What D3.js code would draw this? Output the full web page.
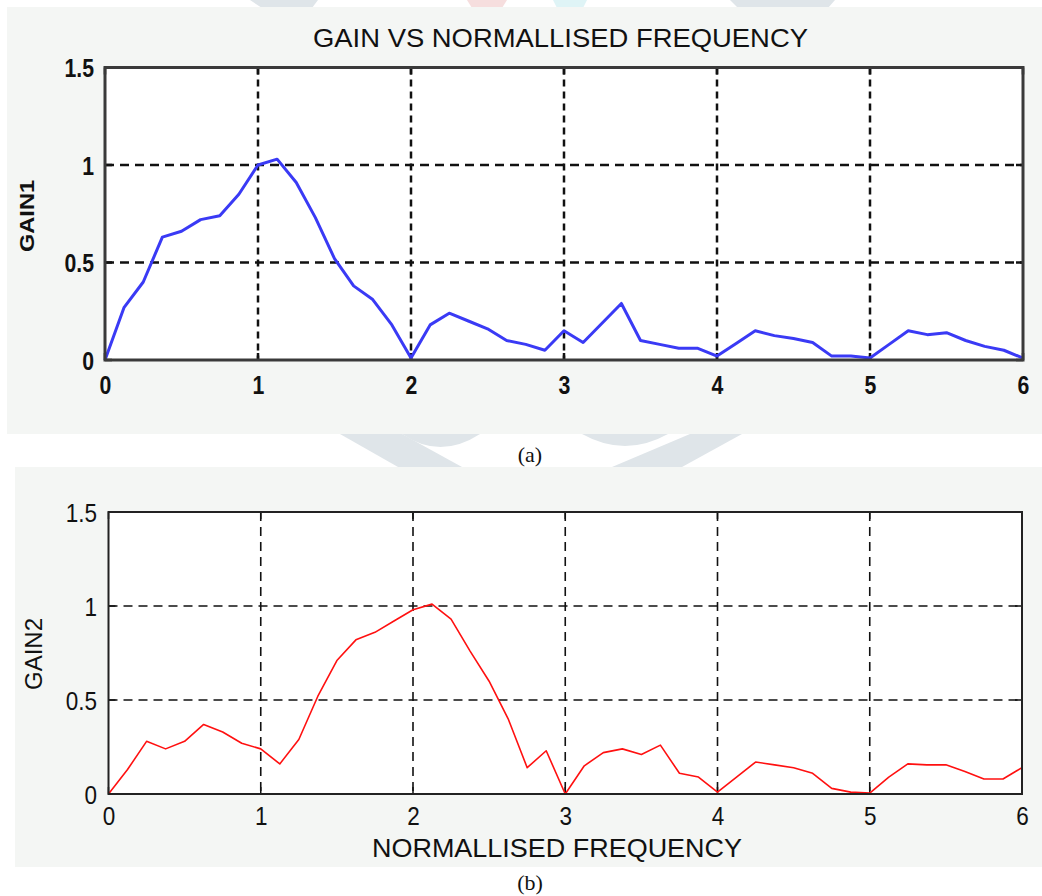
<!DOCTYPE html>
<html><head><meta charset="utf-8">
<script src="https://cdn.jsdelivr.net/npm/d3@7"></script>
<style>body{margin:0;background:#fff;} svg{display:block}</style>
</head><body>
<svg id="c" width="1042" height="896"></svg>
<script>
// ---- data ----
const freq = [0,0.125,0.25,0.375,0.5,0.625,0.75,0.875,1,1.125,1.25,1.375,1.5,1.625,1.75,1.875,
  2,2.125,2.25,2.375,2.5,2.625,2.75,2.875,3,3.125,3.25,3.375,3.5,3.625,3.75,3.875,
  4,4.125,4.25,4.375,4.5,4.625,4.75,4.875,5,5.125,5.25,5.375,5.5,5.625,5.75,5.875,6];
const gain1 = [0,0.27,0.40,0.63,0.66,0.72,0.74,0.85,1.00,1.03,0.91,0.73,0.52,0.38,0.31,0.18,
  0.01,0.18,0.24,0.20,0.16,0.10,0.08,0.05,0.15,0.09,0.19,0.29,0.10,0.08,0.06,0.06,
  0.02,0.085,0.15,0.125,0.11,0.09,0.02,0.02,0.01,0.08,0.15,0.13,0.14,0.10,0.07,0.05,0.01];
const gain2 = [0,0.13,0.28,0.24,0.28,0.37,0.33,0.27,0.24,0.16,0.29,0.52,0.71,0.82,0.86,0.92,
  0.98,1.01,0.93,0.76,0.60,0.40,0.14,0.23,0.0,0.15,0.22,0.24,0.21,0.26,0.11,0.09,
  0.01,0.09,0.17,0.155,0.14,0.11,0.03,0.01,0.005,0.09,0.16,0.155,0.155,0.12,0.08,0.08,0.14];
const xTicks = [0,1,2,3,4,5,6];
const xTickLabels = ["0","1","2","3","4","5","6"];
const yTicks = [0,0.5,1,1.5];
const yTickLabels = ["0","0.5","1","1.5"];
const titleText = "GAIN VS NORMALLISED FREQUENCY";
const yLabel1 = "GAIN1";
const yLabel2 = "GAIN2";
const xLabel2 = "NORMALLISED FREQUENCY";
const captions = ["(a)", "(b)"];

const svg = d3.select("#c");
const FONT = "'Liberation Sans', Arial, sans-serif";

// faint watermark shapes behind the figure
const wm = svg.append("g").attr("fill", "#dfe5e9");
[[[340,434],[402,434],[462,467],[398,467]],
 [[690,434],[742,434],[682,467],[612,467]],
 [[250,0],[318,0],[312,8],[262,8]],
 [[730,0],[835,0],[828,8],[738,8]]].forEach(p =>
  wm.append("polygon").attr("points", p.map(q => q.join(",")).join(" ")));
wm.append("polygon").attr("points","467,0 507,0 502,8 472,8").attr("fill","#f6dede");
wm.append("polygon").attr("points","553,0 587,0 583,8 557,8").attr("fill","#dff4f6");
wm.append("path").attr("d","M402,434 Q440,460 480,434 Z");
wm.append("path").attr("d","M582,434 Q625,458 668,434 Z");

function condense(sel, f) {
  sel.each(function () {
    const w = this.getComputedTextLength();
    d3.select(this).attr("textLength", w * f).attr("lengthAdjust", "spacingAndGlyphs");
  });
}

function panel(o) {
  const g = svg.append("g");
  g.append("rect").attr("x", o.bg[0]).attr("y", o.bg[1]).attr("width", o.bg[2]).attr("height", o.bg[3])
    .attr("fill", "#f4f6f4");
  const x = d3.scaleLinear().domain([0, 6]).range([o.x0, o.x1]);
  const y = d3.scaleLinear().domain([0, 1.5]).range([o.y0, o.y1]);
  g.append("rect").attr("x", o.x0).attr("y", o.y1).attr("width", o.x1 - o.x0).attr("height", o.y0 - o.y1)
    .attr("fill", "#fff");

  // grid
  const grid = g.append("g").attr("stroke", "#111").attr("fill", "none");
  grid.selectAll("line.v").data(xTicks.slice(1, -1)).join("line")
    .attr("x1", d => x(d)).attr("x2", d => x(d)).attr("y1", o.y1).attr("y2", o.y0)
    .attr("stroke-width", o.gridVW).attr("stroke-dasharray", o.dashV);
  grid.selectAll("line.h").data(yTicks.slice(1, -1)).join("line")
    .attr("x1", o.x0).attr("x2", o.x1).attr("y1", d => y(d)).attr("y2", d => y(d))
    .attr("stroke-width", o.gridHW).attr("stroke-dasharray", o.dashH);

  // inward ticks
  const tk = g.append("g").attr("stroke", "#111").attr("stroke-width", o.tickW);
  xTicks.forEach(d => {
    tk.append("line").attr("x1", x(d)).attr("x2", x(d)).attr("y1", o.y0).attr("y2", o.y0 - 7);
    tk.append("line").attr("x1", x(d)).attr("x2", x(d)).attr("y1", o.y1).attr("y2", o.y1 + 7);
  });
  yTicks.forEach(d => {
    tk.append("line").attr("x1", o.x0).attr("x2", o.x0 + 7).attr("y1", y(d)).attr("y2", y(d));
    tk.append("line").attr("x1", o.x1).attr("x2", o.x1 - 7).attr("y1", y(d)).attr("y2", y(d));
  });

  // data line
  const line = d3.line().x((d, i) => x(freq[i])).y(d => y(d));
  g.append("path").datum(o.values).attr("d", line).attr("fill", "none")
    .attr("stroke", o.color).attr("stroke-width", o.lineW).attr("stroke-linejoin", "round");

  // frame
  g.append("rect").attr("x", o.x0).attr("y", o.y1).attr("width", o.x1 - o.x0).attr("height", o.y0 - o.y1)
    .attr("fill", "none").attr("stroke", o.frameColor).attr("stroke-width", o.frameW);

  // axes labels via d3 axes
  const ax = g.append("g").attr("transform", `translate(0,${o.y0})`)
    .call(d3.axisBottom(x).tickValues(xTicks).tickFormat((d, i) => xTickLabels[i]).tickSize(0));
  ax.select(".domain").remove();
  ax.selectAll("text").attr("dy", null).attr("y", o.xTickBase)
    .attr("font-family", FONT).attr("font-size", o.tickSize).attr("font-weight", o.tickWeight)
    .attr("fill", "#111").call(condense, o.condense);
  const ay = g.append("g").attr("transform", `translate(${o.yTickRight},0)`)
    .call(d3.axisLeft(y).tickValues(yTicks).tickFormat((d, i) => yTickLabels[i]).tickSize(0).tickPadding(0));
  ay.select(".domain").remove();
  ay.selectAll("text").attr("dy", "0.36em").attr("x", 0)
    .attr("font-family", FONT).attr("font-size", o.tickSize).attr("font-weight", o.tickWeight)
    .attr("fill", "#111").call(condense, o.condense);

  // y label
  g.append("text").attr("transform", `translate(${o.yLab[0]},${o.yLab[1]}) rotate(-90)`)
    .attr("text-anchor", "middle").attr("dy", "0.36em")
    .attr("font-family", FONT).attr("font-size", o.yLabSize).attr("font-weight", o.tickWeight)
    .attr("fill", "#111").attr("textLength", o.yLabLen).attr("lengthAdjust", "spacingAndGlyphs")
    .text(o.yLabel);
  return g;
}

const p1 = panel({
  bg: [7, 7, 1035, 427], x0: 105, x1: 1023, y0: 360, y1: 67.5,
  values: gain1, color: "#3a3af5", lineW: 3,
  frameColor: "#3a3a3a", frameW: 3, tickW: 2.5,
  gridVW: 2.5, gridHW: 2.5, dashV: "7,5", dashH: "9,6",
  xTickBase: 34, yTickRight: 94, tickSize: 25, tickWeight: "bold", condense: 0.85,
  yLab: [26, 216], yLabSize: 21, yLabLen: 72, yLabel: yLabel1
});
p1.append("text").attr("x", 560.5).attr("y", 47).attr("text-anchor", "middle")
  .attr("font-family", FONT).attr("font-size", 25).attr("fill", "#111")
  .attr("textLength", 495).attr("lengthAdjust", "spacingAndGlyphs").text(titleText);

const p2 = panel({
  bg: [15, 467, 1027, 400], x0: 108.5, x1: 1022, y0: 794, y1: 512,
  values: gain2, color: "#ff1010", lineW: 1.6,
  frameColor: "#222", frameW: 2, tickW: 1.5,
  gridVW: 1.6, gridHW: 1.6, dashV: "9,6", dashH: "9,6",
  xTickBase: 31, yTickRight: 97, tickSize: 25, tickWeight: "normal", condense: 0.9,
  yLab: [33, 654], yLabSize: 24, yLabLen: 72, yLabel: yLabel2
});
p2.append("text").attr("x", 557).attr("y", 857).attr("text-anchor", "middle")
  .attr("font-family", FONT).attr("font-size", 26).attr("fill", "#111")
  .attr("textLength", 370).attr("lengthAdjust", "spacingAndGlyphs").text(xLabel2);

// captions
svg.selectAll("text.cap").data(captions).join("text")
  .attr("x", 530).attr("y", (d, i) => i === 0 ? 462 : 890)
  .attr("text-anchor", "middle").attr("font-family", "'Liberation Serif', 'Times New Roman', serif")
  .attr("font-size", 22).attr("fill", "#111").text(d => d);
</script>
</body></html>
